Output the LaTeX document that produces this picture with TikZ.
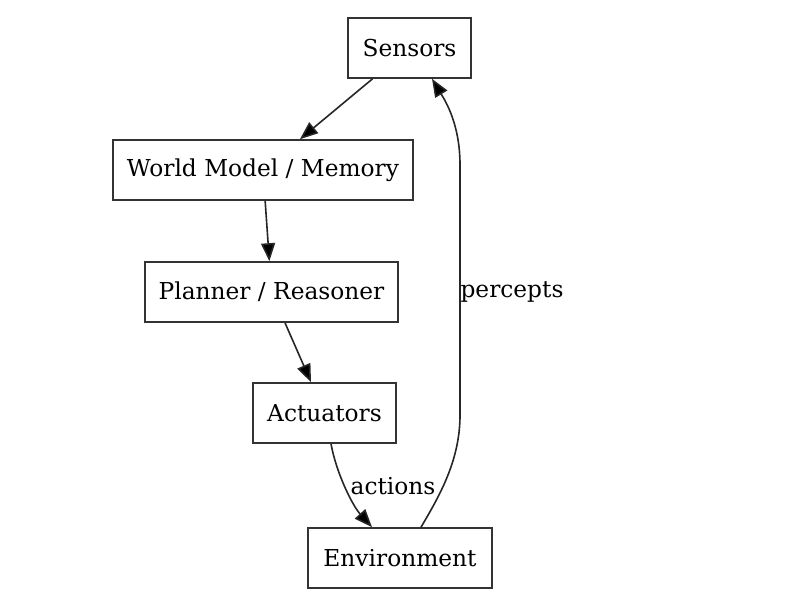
\documentclass[tikz,border=0pt]{standalone}
\usepackage{fontspec}
\setmainfont{DejaVu Serif}
\usetikzlibrary{arrows.meta,calc}
\begin{document}
\begin{tikzpicture}[x=1pt,y=-1pt,
  box/.style={draw=black!80,line width=1.6pt,inner sep=0pt,minimum height=60pt,
    font=\fontsize{23.3}{27}\selectfont},
  link/.style={draw=black!85,line width=1.6pt,-{Triangle[length=18pt,width=14pt,fill=black]}},
  tag/.style={font=\fontsize{23.3}{27}\selectfont,inner sep=0pt}]
  \useasboundingbox (0,0) rectangle (794,605);

  \node[box,minimum width=123pt] (sensors) at (409.5,48) {Sensors};
  \node[box,minimum width=300pt] (world) at (263,170) {World Model / Memory};
  \node[box,minimum width=253pt] (planner) at (271.5,292) {Planner / Reasoner};
  \node[box,minimum width=143pt] (act) at (324.5,413) {Actuators};
  \node[box,minimum width=184pt] (env) at (400,558) {Environment};

  \draw[link] (sensors) -- (world);
  \draw[link] (world) -- (planner);
  \draw[link] (planner) -- (act);

  % actions: actuators down to the environment
  \draw[link] ($(act.south)+(6.5,0)$) .. controls (336,472) and (352,505) .. ($(env.north)+(-28,0)$);
  \node[tag] (actions) at (393,486) {actions};

  % percepts: environment back up to the sensors
  \draw[link] ($(env.north)+(21,0)$) .. controls (440,495) and (460,460) .. (460,415)
    -- (460,165) .. controls (460,125) and (446,102) .. ($(sensors.south)+(22.5,0)$);
  \node[tag] (percepts) at (512,292) {percepts};
\end{tikzpicture}
\end{document}
